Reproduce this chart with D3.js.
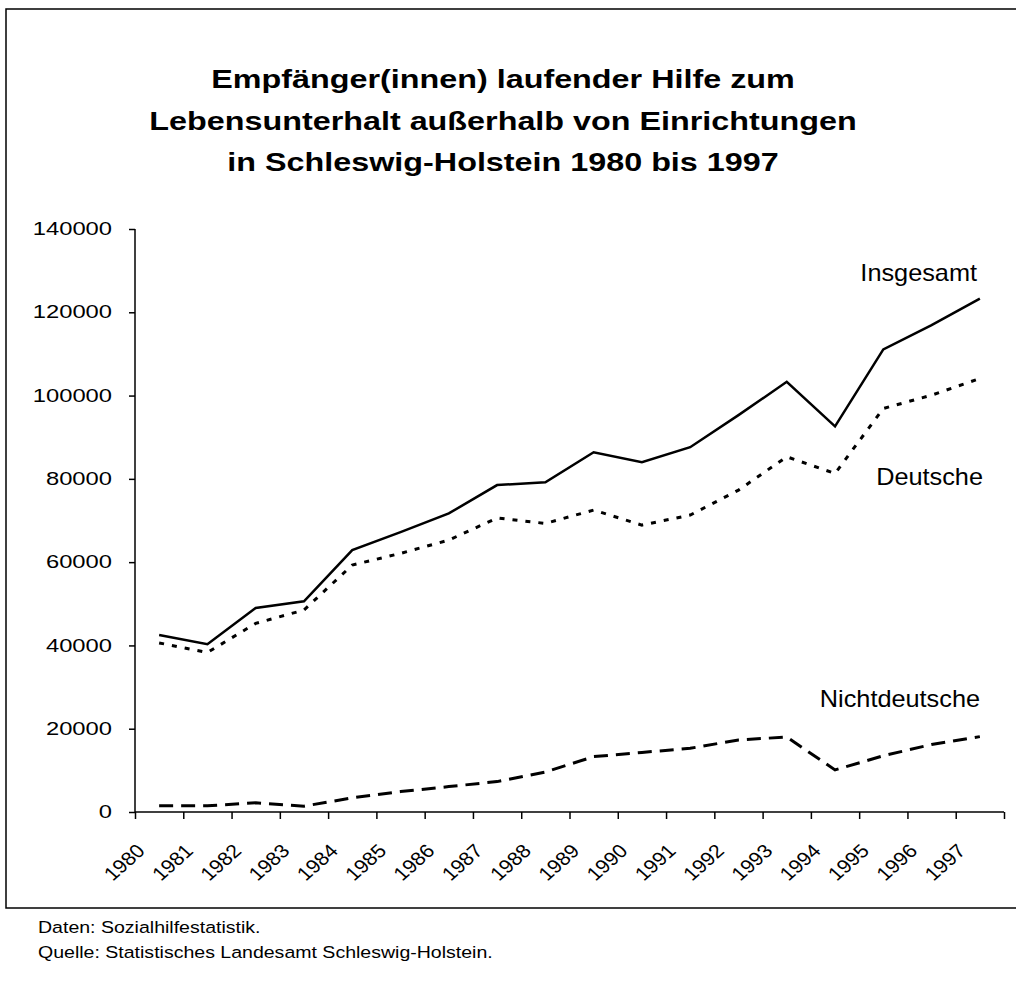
<!DOCTYPE html>
<html>
<head>
<meta charset="utf-8">
<script src="https://cdn.jsdelivr.net/npm/d3@7"></script>
<style>
  body { margin: 0; background: #fff; }
  text { font-family: "Liberation Sans", Arial, sans-serif; fill: #000; }
</style>
</head>
<body>
<div id="chart"></div>
<script>
// data (persons)
var years = ["1980","1981","1982","1983","1984","1985","1986","1987","1988",
             "1989","1990","1991","1992","1993","1994","1995","1996","1997"];
var insgesamt = [42500, 40300, 49000, 50600, 62900, 67200, 71700, 78500, 79200,
                 86400, 84000, 87600, 95300, 103300, 92600, 111100, 116900, 123300];
var deutsche = [40600, 38300, 45300, 48500, 59300, 62100, 65300, 70600, 69300,
                72500, 68900, 71300, 77300, 85300, 81300, 96900, 100100, 104100];
var nichtdeutsche = [1500, 1500, 2200, 1400, 3400, 4900, 6100, 7300, 9600,
                     13300, 14300, 15300, 17300, 18000, 10100, 13500, 16200, 18100];
var yTicks = [0, 20000, 40000, 60000, 80000, 100000, 120000, 140000];
var titleLines = ["Empfänger(innen) laufender Hilfe zum",
                  "Lebensunterhalt außerhalb von Einrichtungen",
                  "in Schleswig-Holstein 1980 bis 1997"];
var notes = ["Daten: Sozialhilfestatistik.",
             "Quelle: Statistisches Landesamt Schleswig-Holstein."];

var width = 1016, height = 983;
var margin = {left: 135, right: 4, top: 229, bottom: 171};

var series = [
  {name: "Insgesamt", values: insgesamt, dash: null, labelAt: 127500, labelX: 977},
  {name: "Deutsche", values: deutsche, dash: "5,8", labelAt: 78500, labelX: 983},
  {name: "Nichtdeutsche", values: nichtdeutsche, dash: "14,8", labelAt: 25300, labelX: 980}
];

var svg = d3.select("#chart").append("svg")
    .attr("width", width)
    .attr("height", height);

// outer frame (right edge runs off the page in the scan)
svg.append("rect")
    .attr("x", 6).attr("y", 9)
    .attr("width", 1030).attr("height", 899)
    .attr("fill", "none").attr("stroke", "#000").attr("stroke-width", 1.5);

var x = d3.scaleBand()
    .domain(years)
    .range([margin.left, width - margin.right - 8]);

var y = d3.scaleLinear()
    .domain([0, 140000])
    .range([height - margin.bottom, margin.top]);

// the scan is stretched a bit horizontally, mimic with scaleX
function stretch(sel, px, py, k) {
  sel.attr("transform", "translate(" + px + "," + py + ") scale(" + k + ",1)");
}

svg.append("g").selectAll("text")
  .data(titleLines)
  .join("text")
    .attr("text-anchor", "middle")
    .style("font-size", "26.5px")
    .style("font-weight", "bold")
    .each(function(d, i) { stretch(d3.select(this), 503, 88 + i * 41.5, 1.22); })
    .text(d => d);

// y axis
var yAxis = svg.append("g")
    .attr("transform", "translate(" + margin.left + ",0)")
    .call(d3.axisLeft(y).tickValues(yTicks).tickSize(6).tickFormat(d3.format("d")));
yAxis.select(".domain").attr("stroke-width", 1.5).attr("d", "M0," + y(140000) + "V" + y(0));
yAxis.selectAll(".tick line").attr("stroke-width", 1.5);
yAxis.selectAll(".tick text")
    .attr("x", 0).attr("dy", "0.3em")
    .style("font-size", "19px")
    .attr("fill", "#000")
    .each(function() { stretch(d3.select(this), -23, 0, 1.25); });

// x axis: ticks on band boundaries, labels at band centres
var xEdge = d3.scaleLinear().domain([0, years.length]).range(x.range());
var xTickAxis = svg.append("g")
    .attr("transform", "translate(0," + y(0) + ")")
    .call(d3.axisBottom(xEdge).ticks(years.length).tickSize(7).tickFormat(""));
xTickAxis.select(".domain").attr("stroke-width", 1.5)
    .attr("d", "M" + x.range()[0] + ",0H" + x.range()[1]);
xTickAxis.selectAll(".tick line").attr("stroke-width", 1.5);

var xAxis = svg.append("g")
    .attr("transform", "translate(0," + y(0) + ")")
    .call(d3.axisBottom(x).tickSize(0));
xAxis.select(".domain").remove();
xAxis.selectAll(".tick text")
    .attr("x", 0).attr("y", 0).attr("dy", 0)
    .attr("text-anchor", "end")
    .style("font-size", "19px")
    .attr("transform", "translate(-13,40) scale(1.12,1) rotate(-45)");

// lines
var line = d3.line()
    .x((d, i) => x(years[i]) + x.bandwidth() / 2)
    .y(d => y(d));

svg.append("g").selectAll("path")
  .data(series)
  .join("path")
    .attr("d", d => line(d.values))
    .attr("fill", "none")
    .attr("stroke", "#000")
    .attr("stroke-width", d => d.dash ? 3 : 2.5)
    .attr("stroke-dasharray", d => d.dash)
    .attr("stroke-linejoin", "miter");

svg.append("g").selectAll("text")
  .data(series)
  .join("text")
    .attr("text-anchor", "end")
    .style("font-size", "23px")
    .each(function(d) { stretch(d3.select(this), d.labelX, y(d.labelAt), 1.1); })
    .text(d => d.name);

// footnotes
svg.append("g").selectAll("text")
  .data(notes)
  .join("text")
    .style("font-size", "17px")
    .each(function(d, i) { stretch(d3.select(this), 38, 933 + i * 25, 1.15); })
    .text(d => d);
</script>
</body>
</html>
